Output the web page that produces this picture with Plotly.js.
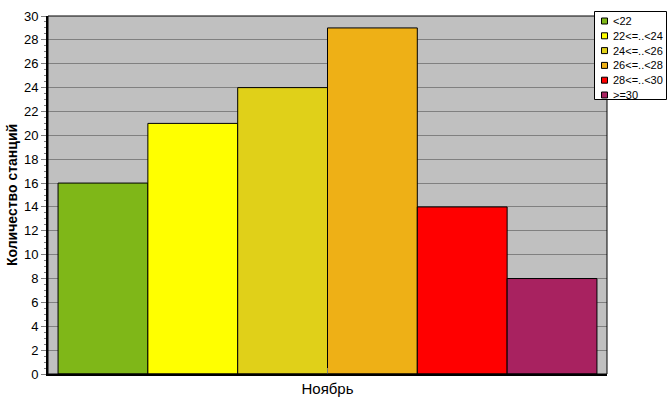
<!DOCTYPE html>
<html><head><meta charset="utf-8">
<script src="https://cdn.plot.ly/plotly-3.0.1.min.js"></script>
<style>body{margin:0;background:#fff}#c{width:667px;height:415px}</style>
</head><body><div id="c"></div>
<script>
const category = ["Ноябрь"];
const seriesNames = ["<22", "22<=..<24", "24<=..<26", "26<=..<28", "28<=..<30", ">=30"];
const seriesValues = [16, 21, 24, 29, 14, 8];
const seriesColors = ["#7FB718", "#FFFF00", "#E0D019", "#EEB016", "#FF0000", "#A82260"];

const traces = seriesNames.map((n, i) => ({
  type: "bar", name: n, x: category, y: [seriesValues[i]],
  marker: {color: seriesColors[i], line: {color: "#000", width: 1}},
  hoverinfo: "none", showlegend: false
}));

// plot area geometry in pixels, for legend placement
const W = 667, H = 415, L = 48, R = 60, T = 16, B = 41;
const pw = W - L - R, ph = H - T - B;
const px = x => (x - L) / pw;
const py = y => (H - B - y) / ph;

const shapes = [{type: "rect", xref: "paper", yref: "paper", x0: 0, x1: 1, y0: 0, y1: 1,
  line: {color: "#000", width: 1}, fillcolor: "rgba(0,0,0,0)", layer: "above"}];
const annotations = [];
// legend box
shapes.push({type: "rect", xref: "paper", yref: "paper", x0: px(594.5), x1: px(666.5), y0: py(11.5), y1: py(99.5),
  line: {color: "#000", width: 1}, fillcolor: "#fff", layer: "above"});
seriesNames.forEach((n, i) => {
  const cy = 21 + i * 14.8;
  shapes.push({type: "rect", xref: "paper", yref: "paper", x0: px(601.5), x1: px(607.5), y0: py(cy - 3), y1: py(cy + 3),
    line: {color: "#000", width: 1}, fillcolor: seriesColors[i], layer: "above"});
  annotations.push({xref: "paper", yref: "paper", x: px(611), y: py(cy), xanchor: "left", yanchor: "middle",
    text: n.replace(/</g, "&lt;"), showarrow: false, font: {size: 11, color: "#000"}});
});

const layout = {
  width: W, height: H,
  margin: {l: L, r: R, t: T, b: B, autoexpand: false},
  paper_bgcolor: "#fff", plot_bgcolor: "#C0C0C0",
  barmode: "group", bargap: 0.036, bargroupgap: 0,
  font: {family: "Liberation Sans, Arial, sans-serif", color: "#000"},
  xaxis: {type: "category", showline: true, linecolor: "#000", linewidth: 2, mirror: false,
    ticks: "inside", ticklen: 6, tickcolor: "#808080", tickfont: {size: 15}, showgrid: false, range: [-0.5, 0.5]},
  yaxis: {range: [0, 30], dtick: 2, showline: true, linecolor: "#000", linewidth: 2,
    ticks: "outside", ticklen: 5, tickcolor: "#808080", tickfont: {size: 13},
    gridcolor: "#808080", gridwidth: 1, zeroline: false,
    minor: {dtick: 0.5, ticks: "outside", ticklen: 2, tickcolor: "#808080", showgrid: false},
    title: {text: "Количество станций", font: {size: 14, weight: "bold"}, standoff: 3}},
  shapes: shapes, annotations: annotations,
  showlegend: false
};
Plotly.newPlot("c", traces, layout, {displayModeBar: false, staticPlot: true});
</script></body></html>
